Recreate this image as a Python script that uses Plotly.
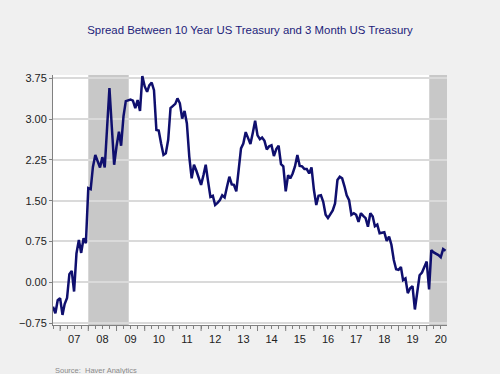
import pandas as pd
import plotly.graph_objects as go

# Monthly spread, Oct 2006 .. Sep 2020 (percentage points)
start_month = "2006-10-01"
spread = [
    -0.45, -0.57, -0.33, -0.29, -0.60, -0.40, -0.29, 0.15, 0.21, -0.17, 0.53, 0.78, 0.54, 0.81, 0.72,
    1.73, 1.71, 2.12, 2.34, 2.22, 2.11, 2.30, 2.11, 2.85, 3.57, 2.85, 2.16, 2.50, 2.77, 2.51, 3.05, 3.33,
    3.35, 3.36, 3.34, 3.20, 3.35, 3.15, 3.79, 3.60, 3.50, 3.62, 3.67, 3.53, 2.80, 2.79, 2.55, 2.34,
    2.37, 2.62, 3.20, 3.25, 3.28, 3.38, 3.29, 3.01, 3.15, 2.92, 2.31, 1.91, 2.16, 2.05, 1.92, 1.79,
    1.97, 2.16, 1.85, 1.57, 1.59, 1.42, 1.46, 1.51, 1.60, 1.56, 1.75, 1.94, 1.80, 1.79, 1.67, 2.05,
    2.46, 2.55, 2.76, 2.65, 2.54, 2.75, 2.97, 2.70, 2.63, 2.66, 2.60, 2.44, 2.50, 2.52, 2.32, 2.45,
    2.51, 2.17, 2.13, 1.67, 1.97, 1.91, 2.00, 2.13, 2.34, 2.14, 2.13, 2.08, 2.08, 2.00, 2.11, 1.70,
    1.42, 1.59, 1.60, 1.48, 1.24, 1.18, 1.26, 1.32, 1.45, 1.88, 1.94, 1.91, 1.76, 1.60, 1.51, 1.24,
    1.27, 1.24, 1.11, 1.27, 1.22, 1.18, 1.02, 1.27, 1.21, 1.03, 1.06, 0.90, 0.91, 0.92, 0.76, 0.84,
    0.69, 0.41, 0.24, 0.23, 0.28, 0.04, 0.07, -0.20, -0.11, -0.07, -0.50, -0.14, 0.13, 0.18, 0.29, 0.38,
    -0.13, 0.59, 0.55, 0.53, 0.50, 0.46, 0.61, 0.58,
]
dates = pd.date_range(start_month, periods=len(spread), freq="MS")

recession_starts = ["2008-01-01", "2020-02-03"]
recession_ends = ["2009-06-08", "2020-09-20"]

year_labels = ["07", "08", "09", "10", "11", "12", "13", "14", "15", "16", "17", "18", "19", "20"]
years = list(range(2007, 2021))
y_ticks = [-0.75, 0.0, 0.75, 1.50, 2.25, 3.00, 3.75]

x_range = ["2006-10-01", "2020-09-20"]
y_range = [-0.785, 3.81]

fig = go.Figure()
fig.add_trace(go.Scatter(
    x=dates, y=spread, mode="lines",
    line=dict(color="#0f0f6e", width=2.5),
    hoverinfo="skip", showlegend=False,
))

shapes = []
for s, e in zip(recession_starts, recession_ends):
    shapes.append(dict(type="rect", xref="x", yref="paper", x0=s, x1=e, y0=0, y1=1,
                       fillcolor="#c8c8c8", line=dict(width=0), layer="between"))
shapes.append(dict(type="line", xref="paper", yref="y", x0=0, x1=1, y0=0, y1=0,
                   line=dict(color="#505050", width=1.2), layer="between"))
# year tick marks (longer)
for yr in years:
    shapes.append(dict(type="line", xref="x", yref="paper", x0=f"{yr}-01-01", x1=f"{yr}-01-01",
                       y0=0, y1=-0.024, line=dict(color="#808080", width=1)))

fig.update_layout(
    width=500, height=374,
    paper_bgcolor="#f0f0f0", plot_bgcolor="#ffffff",
    margin=dict(l=53, r=53, t=75, b=49),
    title=dict(text="Spread Between 10 Year US Treasury and 3 Month US Treasury",
               x=0.5, xanchor="center", y=1 - 30 / 374, yanchor="middle",
               font=dict(family="Liberation Sans, Arial", size=11.4, color="#1c1c7a")),
    shapes=shapes,
    annotations=[dict(text="Source:  Haver Analytics", xref="paper", yref="paper",
                      x=0, y=-45 / 250, xanchor="left", yanchor="middle", showarrow=False,
                      font=dict(family="Liberation Sans, Arial", size=7.5, color="#8a8a8a"))],
    xaxis=dict(
        type="date", range=x_range,
        tickvals=[f"{yr}-07-02" for yr in years], ticktext=year_labels,
        ticks="", showgrid=False, zeroline=False,
        showline=True, linecolor="#808080", linewidth=1,
        minor=dict(ticks="outside", dtick="M3", tick0="2007-01-01", ticklen=3,
                   tickcolor="#808080", showgrid=False),
        tickfont=dict(family="Liberation Sans, Arial", size=11, color="#222222"),
        ticklabelstandoff=4,
    ),
    yaxis=dict(
        range=y_range, tickvals=y_ticks, tickformat=".2f",
        showgrid=True, gridcolor="#dadada", gridwidth=1.5,
        zeroline=False, showline=True, linecolor="#808080", linewidth=1,
        ticks="outside", ticklen=3, tickcolor="#808080",
        tickfont=dict(family="Liberation Sans, Arial", size=11, color="#222222"),
    ),
)

fig.write_html(
    "out.html",
    config={"displayModeBar": False},
    post_script="document.body.style.margin='0';document.body.style.background='#f0f0f0';",
)
